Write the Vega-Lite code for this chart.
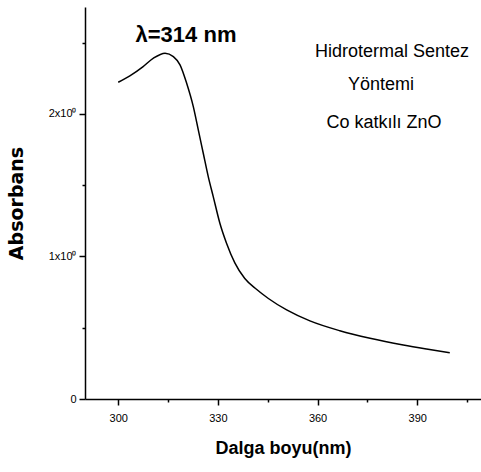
{
  "$schema": "https://vega.github.io/schema/vega-lite/v6.json",
  "width": 396,
  "height": 392,
  "autosize": {"type": "none"},
  "padding": {"left": 85, "top": 7, "right": 0, "bottom": 73},
  "background": "white",
  "config": {
    "view": {"stroke": null},
    "font": "Liberation Sans, Arial"
  },
  "datasets": {
    "spectrum": [
      {"wl": 300.0, "abs": 2.222},
      {"wl": 303.5, "abs": 2.267},
      {"wl": 307.5, "abs": 2.332},
      {"wl": 310.6, "abs": 2.391},
      {"wl": 314.1, "abs": 2.426},
      {"wl": 316.6, "abs": 2.402},
      {"wl": 318.6, "abs": 2.344},
      {"wl": 320.6, "abs": 2.215},
      {"wl": 322.6, "abs": 2.051},
      {"wl": 324.1, "abs": 1.888},
      {"wl": 325.6, "abs": 1.724},
      {"wl": 327.1, "abs": 1.56},
      {"wl": 328.6, "abs": 1.42},
      {"wl": 330.6, "abs": 1.233},
      {"wl": 332.6, "abs": 1.093},
      {"wl": 335.1, "abs": 0.955},
      {"wl": 338.1, "abs": 0.845},
      {"wl": 341.7, "abs": 0.768},
      {"wl": 345.2, "abs": 0.705},
      {"wl": 350.7, "abs": 0.625},
      {"wl": 357.7, "abs": 0.548},
      {"wl": 366.7, "abs": 0.479},
      {"wl": 375.8, "abs": 0.426},
      {"wl": 385.8, "abs": 0.379},
      {"wl": 392.8, "abs": 0.351},
      {"wl": 399.8, "abs": 0.325}
    ],
    "notes": [
      {"wl": 320.4, "abs": 2.505, "label": "λ=314 nm", "kind": "peak"},
      {"wl": 382.4, "abs": 2.40, "label": "Hidrotermal Sentez", "kind": "info"},
      {"wl": 379.1, "abs": 2.168, "label": "Yöntemi", "kind": "info"},
      {"wl": 380.0, "abs": 1.902, "label": "Co katkılı ZnO", "kind": "info"}
    ]
  },
  "layer": [
    {
      "data": {"name": "spectrum"},
      "mark": {"type": "line", "color": "black", "strokeWidth": 1.5, "interpolate": "monotone"},
      "encoding": {
        "x": {
          "field": "wl", "type": "quantitative",
          "scale": {"domain": [290, 409.2], "nice": false, "zero": false},
          "axis": {
            "title": "Dalga boyu(nm)",
            "values": [300, 315, 330, 345, 360, 375, 390, 405],
            "labelExpr": "datum.value % 30 === 0 ? datum.label : ''",
            "grid": false,
            "domainColor": "black", "domainWidth": 1.5,
            "tickColor": "black", "tickWidth": 1.5,
            "tickSize": {"condition": {"test": "datum.value % 30 === 0", "value": 6}, "value": 3},
            "labelFontSize": 11, "labelColor": "black", "labelPadding": 7,
            "titleFontSize": 18, "titleFontWeight": "bold", "titleColor": "black", "titlePadding": 16
          }
        },
        "y": {
          "field": "abs", "type": "quantitative",
          "scale": {"domain": [0, 2.75], "nice": false},
          "axis": {
            "title": "Absorbans",
            "values": [0, 0.5, 1, 1.5, 2, 2.5],
            "labelExpr": "datum.value === 0 ? '0' : (datum.value % 1 === 0 ? datum.value + 'x10⁰' : '')",
            "grid": false,
            "domainColor": "black", "domainWidth": 1.5,
            "tickColor": "black", "tickWidth": 1.5,
            "tickSize": {"condition": {"test": "datum.value % 1 === 0", "value": 6}, "value": 3},
            "labelFontSize": 11, "labelColor": "black", "labelPadding": 3,
            "titleFont": "DejaVu Sans", "titleFontSize": 19, "titleFontWeight": "bold", "titleColor": "black", "titlePadding": 22
          }
        }
      }
    },
    {
      "mark": {"type": "rule", "color": "black", "strokeWidth": 1.5},
      "encoding": {"y": {"datum": 2.75}}
    },
    {
      "data": {"name": "notes"},
      "transform": [{"filter": "datum.kind === 'peak'"}],
      "mark": {"type": "text", "fontSize": 22, "fontWeight": "bold", "align": "center", "baseline": "alphabetic", "color": "black"},
      "encoding": {
        "x": {"field": "wl", "type": "quantitative"},
        "y": {"field": "abs", "type": "quantitative"},
        "text": {"field": "label"}
      }
    },
    {
      "data": {"name": "notes"},
      "transform": [{"filter": "datum.kind === 'info'"}],
      "mark": {"type": "text", "fontSize": 18, "align": "center", "baseline": "alphabetic", "color": "black"},
      "encoding": {
        "x": {"field": "wl", "type": "quantitative"},
        "y": {"field": "abs", "type": "quantitative"},
        "text": {"field": "label"}
      }
    }
  ]
}
